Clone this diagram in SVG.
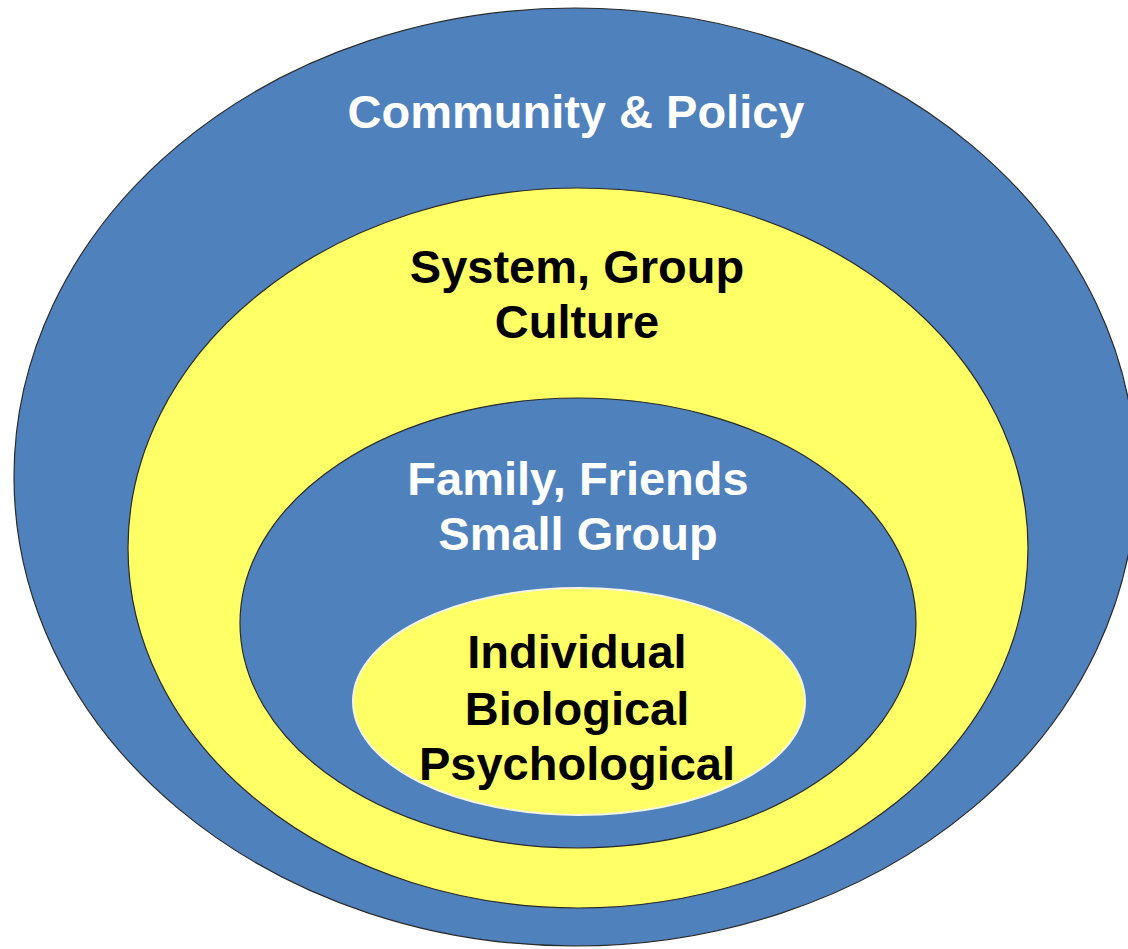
<svg xmlns="http://www.w3.org/2000/svg" width="1128" height="949" viewBox="0 0 1128 949">
<style>
.blue{fill:#4F81BD;stroke:#2a2a2a;stroke-width:1.2}
.yellow{fill:#FFFF66;stroke:#2a2a2a;stroke-width:1.2}
.core{fill:#FFFF66;stroke:#F4F4E0;stroke-width:2}
text{font-family:"Liberation Sans",Arial,sans-serif;font-weight:bold;font-size:47px;text-anchor:middle}
.w{fill:#FFFFFF}
.k{fill:#000000}
</style>
<rect x="0" y="0" width="1128" height="949" fill="#FFFFFF"/>
<g id="community">
<ellipse class="blue" cx="575" cy="477" rx="561" ry="469"/>
<text class="w" x="576" y="128">Community &amp; Policy</text>
</g>
<g id="system">
<ellipse class="yellow" cx="578" cy="548" rx="450" ry="360"/>
<text class="k" x="577" y="283">System, Group</text>
<text class="k" x="577" y="338">Culture</text>
</g>
<g id="family">
<ellipse class="blue" cx="578" cy="623" rx="338" ry="225"/>
<text class="w" x="578" y="495">Family, Friends</text>
<text class="w" x="578" y="550">Small Group</text>
</g>
<g id="individual">
<ellipse class="core" cx="579" cy="701.5" rx="226" ry="113.5"/>
<text class="k" x="577" y="668">Individual</text>
<text class="k" x="577" y="725">Biological</text>
<text class="k" x="577" y="780">Psychological</text>
</g>
<g id="connectors"/>
</svg>
